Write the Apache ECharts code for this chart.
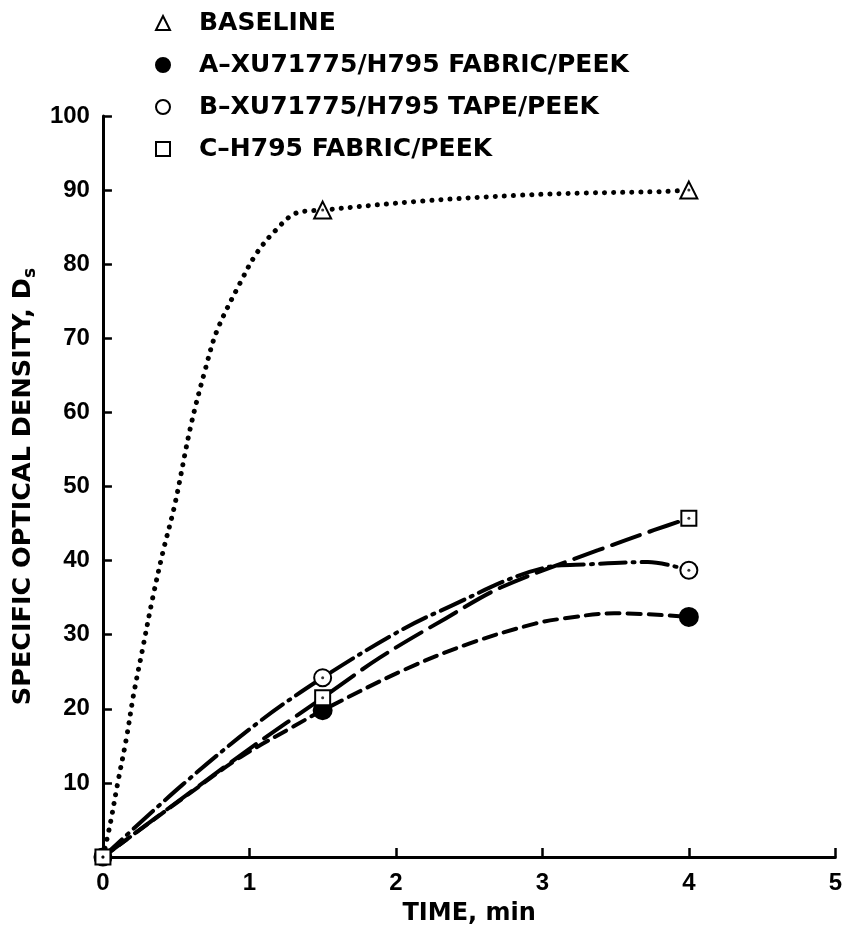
<!DOCTYPE html>
<html>
<head>
<meta charset="utf-8">
<script src="https://cdn.jsdelivr.net/npm/echarts@6/dist/echarts.min.js"></script>
<style>html,body{margin:0;padding:0;background:#fff;}#c{width:845px;height:932px;}</style>
</head>
<body>
<div id="c"></div>
<script>
// measured points
const time = [0, 1.5, 4];
const baseline = [0, 87.3, 90];
const seriesA = [0, 19.8, 32.4];
const seriesB = [0, 24.2, 38.7];
const seriesC = [0, 21.5, 45.7];
// drawn curves
const baselineCurve = [[0,0],[0.05,4.5],[0.1,9.9],[0.16,16],[0.21,22],[0.27,28],[0.34,35],[0.41,41.2],[0.49,47.5],[0.6,58.2],[0.7,65.9],[0.78,71.1],[0.94,77.6],[1.05,81.5],[1.18,84.6],[1.32,86.9],[1.5,87.3],[2.16,88.5],[2.84,89.3],[3.29,89.6],[3.81,89.8],[4,90]];
const curveA = [[0,0],[0.62,9.0],[0.94,13.5],[1.3,17.6],[1.5,19.8],[2.05,25.2],[2.5,28.8],[2.95,31.5],[3.15,32.2],[3.49,32.9],[4,32.4]];
const curveB = [[0,0],[0.54,9.7],[1.07,18.3],[1.5,24.2],[1.98,30.0],[2.29,33.1],[3.03,39.1],[3.31,39.5],[3.72,39.8],[4,38.7]];
const curveC = [[0,0],[0.6,8.8],[1.0,14.6],[1.5,21.5],[1.89,26.9],[2.34,32.2],[2.72,36.4],[3.38,41.4],[3.76,44.1],[4,45.7]];
const names = ['BASELINE','A\u2013XU71775/H795 FABRIC/PEEK','B\u2013XU71775/H795 TAPE/PEEK','C\u2013H795 FABRIC/PEEK'];
const xTicks = [0,1,2,3,4,5];
const yTicks = [10,20,30,40,50,60,70,80,90,100];

const FONT = 'DejaVu Sans';
const tick = {color:'#000', fontFamily:'Liberation Sans', fontWeight:'bold', fontSize:24};
const nameTxt = {color:'#000', fontFamily:FONT, fontWeight:'bold', fontSize:24};

function curve(data, type, width){
  return {type:'line', data:data, smooth:0.35, symbol:'none', silent:true, z:2,
    lineStyle:{color:'#000', width:width, type:type, cap:'round'}};
}
function marks(name, ys, symbol, size, hideOrigin){
  return {type:'scatter', name:name, z:5,
    data: time.map((t,i)=>({value:[t, ys[i]], symbol:(hideOrigin && i===0)?'none':symbol})),
    symbol:symbol, symbolSize:size,
    itemStyle:{color:'#000', borderColor:'#000', borderWidth:3, opacity:1}};
}
function dots(ys, hideOrigin){
  return {type:'scatter', silent:true, z:6, symbol:'circle', symbolSize:3,
    data: time.map((t,i)=>({value:[t, ys[i]], symbol:(hideOrigin && i===0)?'none':'circle'})),
    itemStyle:{color:'#000'}};
}

const chart = echarts.init(document.getElementById('c'), null, {renderer:'canvas'});
chart.setOption({
  animation:false,
  backgroundColor:'#fff',
  grid:{left:98, right:9, top:116, bottom:75},
  legend:{orient:'vertical', left:150, top:3, itemGap:12, itemWidth:14, itemHeight:14,
    textStyle:{color:'#000', fontFamily:FONT, fontWeight:'bold', fontSize:25, lineHeight:30, padding:[0,0,0,24]},
    data:names.map(n=>({name:n}))},
  xAxis:{type:'value', min:0, max:5, interval:1,
    axisLine:{lineStyle:{color:'#000', width:3}},
    axisTick:{inside:true, length:9, lineStyle:{width:2.5, color:'#000'}},
    axisLabel:Object.assign({}, tick, {margin:14, formatter:v=>xTicks.indexOf(v)>=0?String(v):''}),
    splitLine:{show:false},
    name:'TIME, min', nameLocation:'middle', nameGap:45, nameTextStyle:nameTxt},
  yAxis:{type:'value', min:0, max:100, interval:10,
    axisLine:{show:true, lineStyle:{color:'#000', width:3}},
    axisTick:{inside:true, length:9, lineStyle:{width:2.5, color:'#000'}},
    axisLabel:Object.assign({}, tick, {margin:13, formatter:v=>yTicks.indexOf(v)>=0?String(v):''}),
    splitLine:{show:false},
    name:'{a|SPECIFIC OPTICAL DENSITY, D}{s|s}', nameLocation:'middle', nameGap:60, nameRotate:90,
    nameTextStyle:{color:'#000', rich:{
      a:{fontFamily:FONT, fontWeight:'bold', fontSize:25.5, color:'#000', lineHeight:30},
      s:{fontFamily:FONT, fontWeight:'bold', fontSize:17, color:'#000', lineHeight:30, padding:[14,0,0,0]}}}},
  series:[
    curve(baselineCurve, [0.1,9], 5),
    curve(curveA, [13,8], 4),
    curve(curveB, [26,7,2,7], 4),
    curve(curveC, [30,10], 4),
    marks(names[0], baseline, 'emptyTriangle', 17, true),
    marks(names[1], seriesA, 'circle', 17, true),
    marks(names[2], seriesB, 'emptyCircle', 17, false),
    marks(names[3], seriesC, 'emptyRect', 15, false),
    dots(baseline, true),
    dots(seriesB, false),
    dots(seriesC, false)
  ]
});
</script>
</body>
</html>
